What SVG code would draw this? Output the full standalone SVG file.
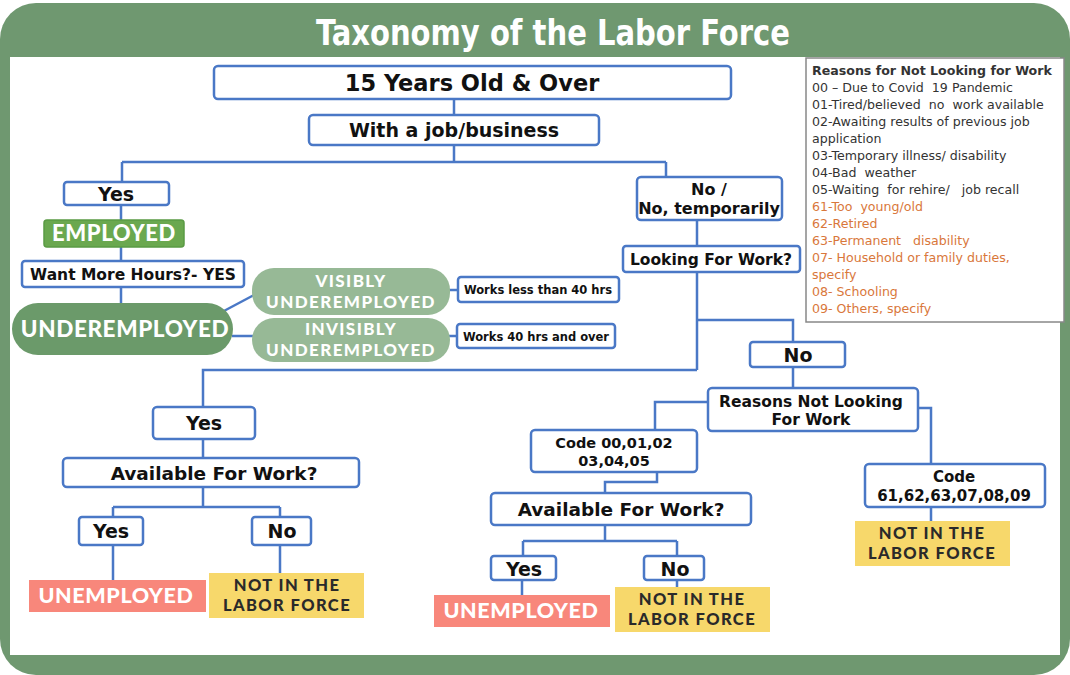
<svg xmlns="http://www.w3.org/2000/svg" width="1070" height="675" viewBox="0 0 1070 675">
<style>
.box{fill:#fff;stroke:#4a78c6;stroke-width:2.5}
.t{font-family:"DejaVu Sans",Verdana,sans-serif;font-weight:bold;fill:#111;text-anchor:middle}
.lbl{font-family:Lato,"Open Sans",sans-serif;font-weight:900;text-anchor:middle;letter-spacing:0.6px}
.two{letter-spacing:1.4px}
.w{fill:#fff}
.d{fill:#2a2a2a}
.conn{fill:none;stroke:#4a78c6;stroke-width:2.5}
.lg{font-family:"DejaVu Sans",Verdana,sans-serif;font-size:12.6px;fill:#333;white-space:pre}
.or{fill:#d9773b}
</style>
<rect x="0" y="3" width="1070" height="672" rx="36" fill="#6f9870"/>
<rect x="10" y="57" width="1050" height="598" fill="#fff"/>
<text x="553" y="45" font-family="'DejaVu Sans Condensed','DejaVu Sans',sans-serif" font-weight="bold" font-size="36" fill="#fff" text-anchor="middle" textLength="474" lengthAdjust="spacingAndGlyphs">Taxonomy of the Labor Force</text>

<g id="connectors">
<path class="conn" d="M454 99V115M454 145V162M122 162H666M122 162V182M666 162V177"/>
<path class="conn" d="M121 205V220M121 247V261M121 287V303"/>
<path class="conn" d="M222 312L254 295M232 336H254M448 290H458M448 336H457"/>
<path class="conn" d="M697 220V246M697 272V370M697 320H793V342M697 370H203V407M793 367V388"/>
<path class="conn" d="M708 402H655V430M918 408H931V464M657 472V482H605V493M605 525V541M523 541H677M523 541V556M677 541V556M522 580V596M677 580V587M931 507V521"/>
<path class="conn" d="M203 439V458M203 487V507M113 507H280M113 507V517M280 507V517M113 545V580M280 545V573"/>
</g>

<g id="n-15years"><rect class="box" x="214" y="66" width="517" height="33" rx="4"/><text class="t" x="472" y="91" font-size="22.5">15 Years Old &amp; Over</text></g>
<g id="n-withjob"><rect class="box" x="309" y="115" width="290" height="30" rx="4"/><text class="t" x="454" y="137" font-size="19">With a job/business</text></g>
<g id="n-yes1"><rect class="box" x="64" y="182" width="105" height="23" rx="3"/><text class="t" x="116" y="201" font-size="19">Yes</text></g>
<g id="n-employed"><rect x="44" y="220" width="140" height="27" rx="3" fill="#6aa84f" stroke="#5a9a44" stroke-width="1.5"/><text class="lbl w" x="114" y="241" font-size="22">EMPLOYED</text></g>
<g id="n-wantmore"><rect class="box" x="22" y="261" width="222" height="26" rx="3"/><text class="t" x="133" y="280" font-size="15.5">Want More Hours?- YES</text></g>
<g id="n-underemployed"><rect x="12" y="303" width="221" height="52" rx="26" fill="#6b9a6a"/><text class="lbl w" x="125" y="337" font-size="22.5">UNDEREMPLOYED</text></g>
<g id="n-visibly"><rect x="252" y="268" width="198" height="47" rx="22" fill="#97b996"/><text class="lbl two w" font-size="17"><tspan x="351" y="287">VISIBLY</tspan><tspan x="351" y="308">UNDEREMPLOYED</tspan></text></g>
<g id="n-invisibly"><rect x="252" y="318" width="198" height="44" rx="22" fill="#97b996"/><text class="lbl two w" font-size="17"><tspan x="351" y="335">INVISIBLY</tspan><tspan x="351" y="356">UNDEREMPLOYED</tspan></text></g>
<g id="n-less40"><rect class="box" x="458" y="277" width="161" height="25" rx="3"/><text class="t" x="538" y="294" font-size="11.5">Works less than 40 hrs</text></g>
<g id="n-over40"><rect class="box" x="457" y="324" width="158" height="24" rx="3"/><text class="t" x="536" y="341" font-size="11.5">Works 40 hrs and over</text></g>

<g id="n-no1"><rect class="box" x="637" y="177" width="145" height="43" rx="4"/><text class="t" font-size="16"><tspan x="709" y="195">No /</tspan><tspan x="709" y="214">No, temporarily</tspan></text></g>
<g id="n-looking"><rect class="box" x="623" y="246" width="177" height="26" rx="3"/><text class="t" x="711" y="265" font-size="15.5">Looking For Work?</text></g>
<g id="n-no2"><rect class="box" x="750" y="342" width="95" height="25" rx="3"/><text class="t" x="798" y="362" font-size="19">No</text></g>
<g id="n-reasons"><rect class="box" x="708" y="388" width="210" height="43" rx="4"/><text class="t" font-size="15.5"><tspan x="811" y="407">Reasons Not Looking</tspan><tspan x="811" y="425">For Work</tspan></text></g>
<g id="n-code1"><rect class="box" x="531" y="430" width="166" height="42" rx="4"/><text class="t" font-size="14.5"><tspan x="614" y="448">Code 00,01,02</tspan><tspan x="614" y="466">03,04,05</tspan></text></g>
<g id="n-code2"><rect class="box" x="865" y="464" width="180" height="43" rx="4"/><text class="t" font-size="15"><tspan x="954" y="482">Code</tspan><tspan x="954" y="501">61,62,63,07,08,09</tspan></text></g>
<g id="n-nilf3"><rect x="855" y="521" width="155" height="45" fill="#f7d86b"/><text class="lbl two d" font-size="16.5"><tspan x="932" y="539">NOT IN THE</tspan><tspan x="932" y="559">LABOR FORCE</tspan></text></g>
<g id="n-avail2"><rect class="box" x="491" y="493" width="260" height="32" rx="4"/><text class="t" x="621" y="516" font-size="18.5">Available For Work?</text></g>
<g id="n-yes3"><rect class="box" x="491" y="556" width="65" height="24" rx="3"/><text class="t" x="524" y="576" font-size="19">Yes</text></g>
<g id="n-no3"><rect class="box" x="644" y="556" width="60" height="24" rx="3"/><text class="t" x="675" y="576" font-size="19">No</text></g>
<g id="n-unemp2"><rect x="434" y="595" width="176" height="32" fill="#f8877b"/><text class="lbl w" x="521" y="618" font-size="21.5">UNEMPLOYED</text></g>
<g id="n-nilf2"><rect x="615" y="587" width="155" height="45" fill="#f7d86b"/><text class="lbl two d" font-size="16.5"><tspan x="692" y="605">NOT IN THE</tspan><tspan x="692" y="625">LABOR FORCE</tspan></text></g>

<g id="n-yes2"><rect class="box" x="153" y="407" width="102" height="32" rx="4"/><text class="t" x="204" y="430" font-size="19">Yes</text></g>
<g id="n-avail1"><rect class="box" x="63" y="458" width="296" height="29" rx="4"/><text class="t" x="214" y="480" font-size="18.5">Available For Work?</text></g>
<g id="n-yes4"><rect class="box" x="79" y="517" width="64" height="28" rx="3"/><text class="t" x="111" y="538" font-size="19">Yes</text></g>
<g id="n-no4"><rect class="box" x="252" y="517" width="59" height="28" rx="3"/><text class="t" x="282" y="538" font-size="19">No</text></g>
<g id="n-unemp1"><rect x="29" y="580" width="177" height="32" fill="#f8877b"/><text class="lbl w" x="116" y="603" font-size="21.5">UNEMPLOYED</text></g>
<g id="n-nilf1"><rect x="209" y="573" width="155" height="45" fill="#f7d86b"/><text class="lbl two d" font-size="16.5"><tspan x="287" y="591">NOT IN THE</tspan><tspan x="287" y="611">LABOR FORCE</tspan></text></g>

<g id="legend">
<rect x="806" y="58" width="258" height="264" fill="#fff" stroke="#888" stroke-width="1.5"/>
<text class="lg" x="812" y="75" font-weight="bold" fill="#111">Reasons for Not Looking for Work</text>
<text class="lg" x="812" y="92">00 – Due to Covid  19 Pandemic</text>
<text class="lg" x="812" y="109">01-Tired/believed  no  work available</text>
<text class="lg" x="812" y="126">02-Awaiting results of previous job</text>
<text class="lg" x="812" y="143">application</text>
<text class="lg" x="812" y="160">03-Temporary illness/ disability</text>
<text class="lg" x="812" y="177">04-Bad  weather</text>
<text class="lg" x="812" y="194">05-Waiting  for rehire/   job recall</text>
<text class="lg or" x="812" y="211">61-Too  young/old</text>
<text class="lg or" x="812" y="228">62-Retired</text>
<text class="lg or" x="812" y="245">63-Permanent   disability</text>
<text class="lg or" x="812" y="262">07- Household or family duties,</text>
<text class="lg or" x="812" y="279">specify</text>
<text class="lg or" x="812" y="296">08- Schooling</text>
<text class="lg or" x="812" y="313">09- Others, specify</text>
</g>
</svg>
